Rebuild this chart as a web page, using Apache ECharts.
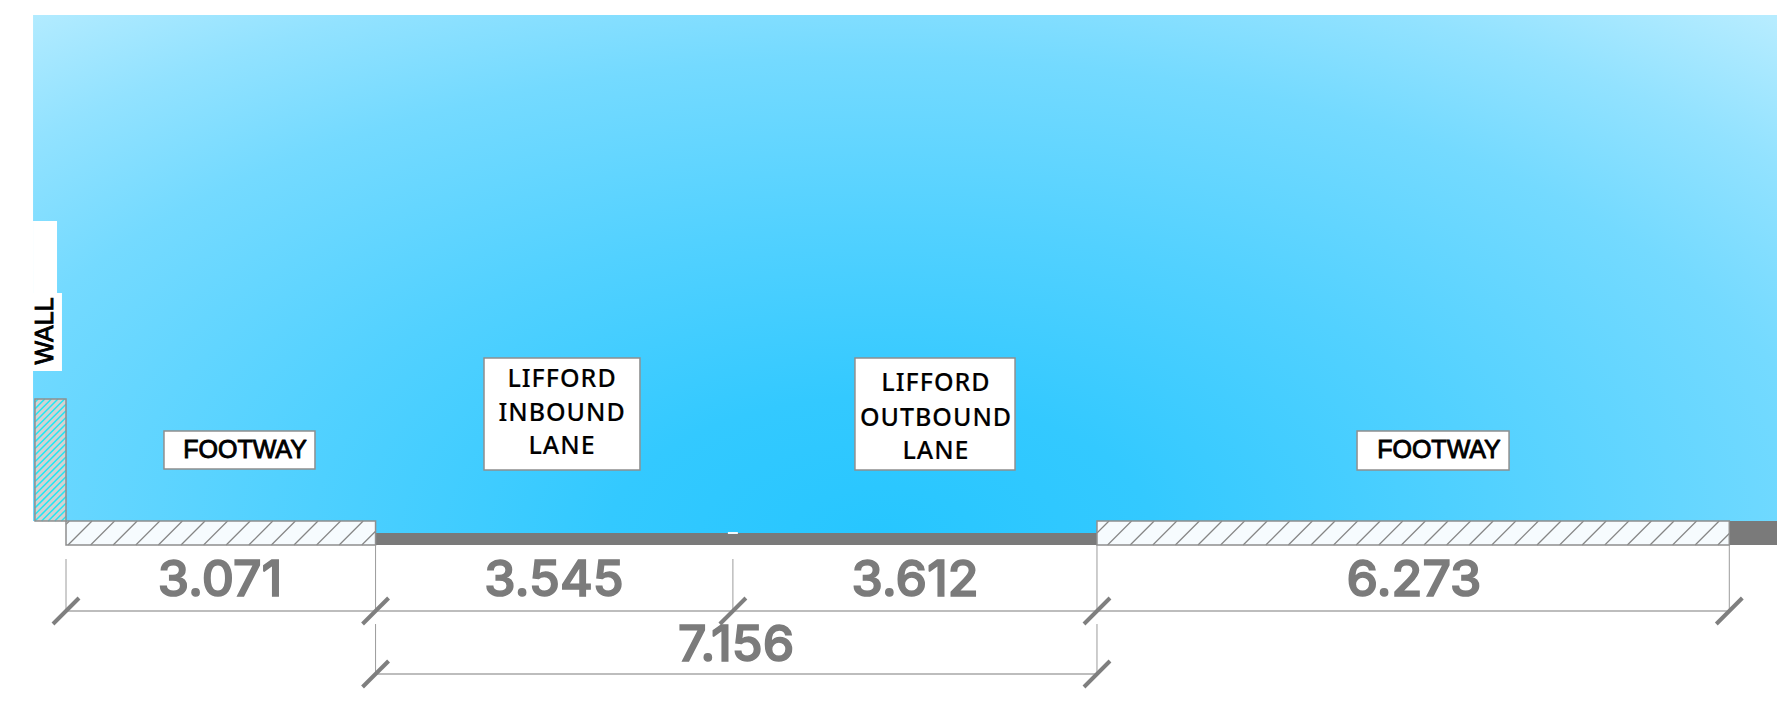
<!DOCTYPE html>
<html><head><meta charset="utf-8">
<style>
html,body{margin:0;padding:0;background:#fff}
#c{width:1777px;height:703px}
svg text[style*="Noto Sans"]{letter-spacing:1px}
</style>
<script src="https://cdn.jsdelivr.net/npm/echarts@6/dist/echarts.min.js"></script>
</head><body><div id="c"></div>
<script>
// ---- data (metres, as dimensioned on the drawing) ----
const sectionNames = ['FOOTWAY', 'LIFFORD INBOUND LANE', 'LIFFORD OUTBOUND LANE', 'FOOTWAY'];
const sectionWidths = [3.071, 3.545, 3.612, 6.273];
const sectionLabels = ['3.071', '3.545', '3.612', '6.273'];
const carriagewayLabel = '7.156';
const wallLabel = 'WALL';
const footwayLabel = 'FOOTWAY';
const inboundLines = ['LIFFORD', 'INBOUND', 'LANE'];
const outboundLines = ['LIFFORD', 'OUTBOUND', 'LANE'];

// ---- layout (scale of the drawing: 100.8 px per metre) ----
const W = 1777, H = 703, PX = 100.8, ORIGIN_X = 66, ORIGIN_Y = 545;
const X_MIN = -ORIGIN_X / PX, X_MAX = (W - ORIGIN_X) / PX;
const Y_MIN = (ORIGIN_Y - H) / PX, Y_MAX = ORIGIN_Y / PX;
const edges = sectionWidths.reduce((a, w) => (a.push(+(a[a.length - 1] + w).toFixed(3)), a), [0]);
const SKY_L = -0.327, SKY_T = 5.258, ROAD_T = 0.119, FOOT_T = 0.238;
const DIM1 = -0.655, DIM2 = -1.28, EXT_GAP = -0.139, EXT2_TOP = -0.784, TICK = 0.129;
const EDGE = '#8f8f8f', DIMLINE = '#bdbdbd';
const SANS = '"Liberation Sans",Arial,sans-serif';

const boxes = [
  [0.972, 2.470, 0.754, 1.131], [4.147, 5.694, 0.744, 1.855],
  [7.827, 9.415, 0.744, 1.855], [12.808, 14.316, 0.744, 1.131]
];
const whiteBlocks = [
  [SKY_L, -0.089, 1.726, 3.214], [SKY_L, -0.04, 1.726, 2.5], [X_MIN, 0, FOOT_T - 0.12, FOOT_T]
];
const greyBlocks = [[edges[1], edges[3], 0, ROAD_T], [edges[4], X_MAX, 0, FOOT_T]];
const footRects = [[edges[0], edges[1], 0, FOOT_T], [edges[3], edges[4], 0, FOOT_T]];
const hatchWall = [[-0.308, 0, FOOT_T, 1.448]];
const smallTexts = [
  [footwayLabel, 1.776, 0.952], [footwayLabel, 13.621, 0.952]
];
const laneTexts = [
  [inboundLines[0], 4.921, 1.667], [inboundLines[1], 4.921, 1.329], [inboundLines[2], 4.921, 1.002],
  [outboundLines[0], 8.631, 1.627], [outboundLines[1], 8.631, 1.280], [outboundLines[2], 8.631, 0.952]
];
const dimTexts = [
  [sectionLabels[0], 1.528, -0.327], [sectionLabels[1], 4.841, -0.327], [sectionLabels[2], 8.423, -0.327],
  [sectionLabels[3], 13.373, -0.327], [carriagewayLabel, 6.647, -0.972]
];

const chart = echarts.init(document.getElementById('c'), null, {renderer: 'svg', width: W, height: H});

function rectOf(api, b) {
  const p0 = api.coord([b[0], b[3]]), p1 = api.coord([b[1], b[2]]);
  return {x: p0[0], y: p0[1], width: p1[0] - p0[0], height: p1[1] - p0[1]};
}
function custom(name, data, renderItem) {
  return {type: 'custom', name, coordinateSystem: 'cartesian2d', clip: false, silent: true,
    data: data.map((d, i) => [i]), renderItem};
}
function fillSeries(name, list, fill, stroke, lw) {
  return custom(name, list, (p, api) => ({type: 'rect', shape: rectOf(api, list[p.dataIndex]),
    style: {fill, stroke: stroke || null, lineWidth: lw || 0}}));
}
function hatchSeries(name, list, fill, lineColor, step, lw, phasePx) {
  return custom(name, list, (p, api) => {
    const r = rectOf(api, list[p.dataIndex]);
    const kids = [{type: 'rect', shape: r, style: {fill, stroke: null}}];
    const x0 = r.x, x1 = r.x + r.width, yB = r.y + r.height, yT = r.y;
    let s = x0 - r.height + (((phasePx - (x0 - r.height)) % step) + step) % step;
    for (; s < x1; s += step) {
      let ax = s, ay = yB, bx = s + r.height, by = yT;
      if (ax < x0) { ay -= (x0 - ax); ax = x0; }
      if (bx > x1) { by += (bx - x1); bx = x1; }
      if (ax < bx) kids.push({type: 'line', shape: {x1: ax, y1: ay, x2: bx, y2: by},
        style: {stroke: lineColor, lineWidth: lw}});
    }
    kids.push({type: 'rect', shape: r, style: {fill: 'transparent', stroke: EDGE, lineWidth: 1.5}});
    return {type: 'group', children: kids};
  });
}
function textSeries(name, list, font, fill, strokeW) {
  return custom(name, list, (p, api) => {
    const t = list[p.dataIndex], c = api.coord([t[1], t[2]]);
    return {type: 'text', x: c[0], y: c[1], style: {text: t[0], font, fill,
      stroke: strokeW ? fill : null, lineWidth: strokeW || 0, textAlign: 'center', textVerticalAlign: 'middle'}};
  });
}

const skySeries = custom('sky', [0], (p, api) => {
  const a = api.coord([SKY_L, SKY_T]), b = api.coord([X_MAX, ROAD_T]);
  const sx = 2, w = b[0] - a[0], h = b[1] - a[1];
  return {type: 'rect', x: a[0], y: a[1], scaleX: sx, shape: {x: 0, y: 0, width: w / sx, height: h},
    style: {fill: {type: 'radial', global: true, x: 424, y: h, r: 680, colorStops: [
      {offset: 0, color: '#27c6ff'}, {offset: 0.2, color: '#33c9ff'}, {offset: 0.45, color: '#52d1ff'},
      {offset: 0.7, color: '#74daff'}, {offset: 0.85, color: '#92e2ff'}, {offset: 1, color: '#b6ecff'}]}}};
});

// extension lines and dimension lines, all from the section edges
const extLines = [
  [edges[0], EXT_GAP, DIM1], [edges[1], 0, DIM1], [edges[2], EXT_GAP, DIM1], [edges[3], 0, DIM1], [edges[4], 0, DIM1],
  [edges[1], EXT2_TOP, DIM2], [edges[3], EXT2_TOP, DIM2]
];
const dimLines = [[edges[0], edges[4], DIM1], [edges[1], edges[3], DIM2]];
const ticks = [
  [edges[0], DIM1], [edges[1], DIM1], [edges[2], DIM1], [edges[3], DIM1], [edges[4], DIM1],
  [edges[1], DIM2], [edges[3], DIM2]
];

const option = {
  animation: false,
  backgroundColor: '#fff',
  grid: {left: 0, right: 0, top: 0, bottom: 0},
  xAxis: {type: 'value', min: X_MIN, max: X_MAX, show: false},
  yAxis: {type: 'value', min: Y_MIN, max: Y_MAX, show: false},
  series: [
    skySeries,
    fillSeries('wall-gap', whiteBlocks, '#fff'),
    fillSeries('road', greyBlocks, '#7a7a7a'),
    custom('centre mark', [0], (p, api) => {
      const c = api.coord([edges[2], ROAD_T]);
      return {type: 'rect', shape: {x: c[0] - 5, y: c[1] - 1, width: 10, height: 2}, style: {fill: '#f2f8fb'}};
    }),
    hatchSeries('footways', footRects, '#f6fbfe', '#858585', 22.6, 1.2, 68),
    hatchSeries('wall', hatchWall, '#d3d3d3', '#22e6f2', 6.6, 1.5, 35),
    fillSeries('label boxes', boxes, '#fff', EDGE, 1.5),
    custom('extensions', extLines, (p, api) => {
      const e = extLines[p.dataIndex], a = api.coord([e[0], e[1]]), b = api.coord([e[0], e[2]]);
      return {type: 'line', shape: {x1: a[0], y1: a[1], x2: b[0], y2: b[1]}, style: {stroke: '#9c9c9c', lineWidth: 1}};
    }),
    custom('dimensions', dimLines, (p, api) => {
      const e = dimLines[p.dataIndex], a = api.coord([e[0], e[2]]), b = api.coord([e[1], e[2]]);
      return {type: 'line', shape: {x1: a[0], y1: a[1], x2: b[0], y2: b[1]}, style: {stroke: DIMLINE, lineWidth: 2}};
    }),
    custom('ticks', ticks, (p, api) => {
      const t = ticks[p.dataIndex], a = api.coord([t[0] - TICK, t[1] - TICK]), b = api.coord([t[0] + TICK, t[1] + TICK]);
      return {type: 'line', shape: {x1: a[0], y1: a[1], x2: b[0], y2: b[1]}, style: {stroke: '#7f7f7f', lineWidth: 4}};
    }),
    textSeries('footway labels', smallTexts, '25px ' + SANS, '#000', 0.9),
    textSeries('lane labels', laneTexts, '500 25px "Noto Sans"', '#000', 0.15),
    textSeries('dimension labels', dimTexts, '500 50px Inter', '#7b7b7b', 1.5),
    custom('wall label', [0], (p, api) => {
      const c = api.coord([-0.218, 2.123]);
      return {type: 'text', x: c[0], y: c[1], rotation: Math.PI / 2, style: {text: wallLabel, font: '25px ' + SANS,
        fill: '#000', stroke: '#000', lineWidth: 0.9, textAlign: 'center', textVerticalAlign: 'middle'}};
    })
  ]
};
chart.setOption(option);
</script></body></html>
